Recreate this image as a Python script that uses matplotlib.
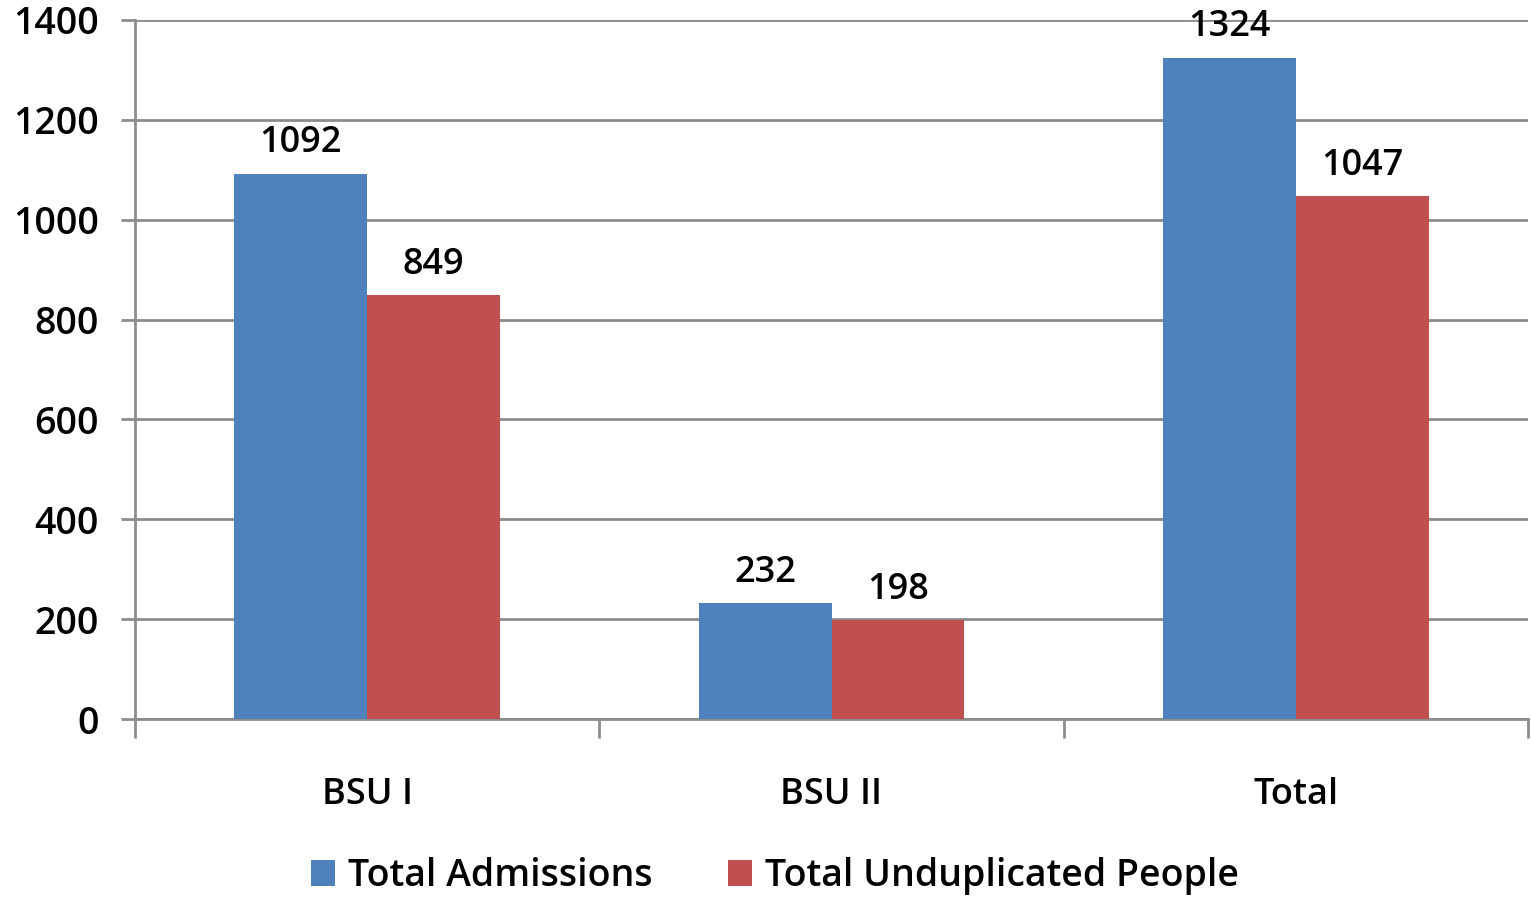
import matplotlib
matplotlib.use("Agg")
import matplotlib.pyplot as plt
import numpy as np

categories = ["BSU I", "BSU II", "Total"]
admissions = [1092, 232, 1324]
unduplicated = [849, 198, 1047]
series_names = ["Total Admissions", "Total Unduplicated People"]
yticks = [0, 200, 400, 600, 800, 1000, 1200, 1400]

plt.rcParams['font.family'] = ['Open Sans', 'DejaVu Sans']
plt.rcParams['font.weight'] = 'semibold'
blue = "#4F81BD"
red = "#C0504D"
grid_c = "#8C8C8C"

fig = plt.figure(figsize=(15.31, 8.98), dpi=100)
ax = fig.add_axes([135/1531, 1-719/898, (1528-135)/1531, (719-20)/898])

x = np.arange(len(categories))
w = 0.286
b1 = ax.bar(x - w/2, admissions, w, color=blue, label=series_names[0], zorder=3)
b2 = ax.bar(x + w/2, unduplicated, w, color=red, label=series_names[1], zorder=3)

fs = 26
for bars, vals in ((b1, admissions), (b2, unduplicated)):
    for r, v in zip(bars, vals):
        ax.annotate(str(v), (r.get_x() + r.get_width()/2, v), xytext=(0, 9),
                    textcoords="offset points", ha="center", va="bottom",
                    fontsize=fs, fontweight='semibold', zorder=4)

ax.set_xlim(-0.5, 2.5)
ax.set_ylim(0, 1400)
ax.set_yticks(yticks)
ax.set_yticklabels([str(t) for t in yticks], fontsize=27, fontweight='semibold')
ax.yaxis.grid(True, color=grid_c, linewidth=2, zorder=0)
ax.set_axisbelow(True)

ax.set_xticks([-0.5, 0.5, 1.5, 2.5])
ax.set_xticklabels([])
ax.set_xticks(x, minor=True)
ax.set_xticklabels(categories, minor=True, fontsize=fs, fontweight='semibold')
ax.tick_params(axis='x', which='major', length=14, width=2, color=grid_c, direction='out')
ax.tick_params(axis='x', which='minor', length=0, pad=42)
ax.tick_params(axis='y', length=10, width=2, color=grid_c, direction='out', pad=16)

for s in ['top', 'right']:
    ax.spines[s].set_visible(False)
for s in ['left', 'bottom']:
    ax.spines[s].set_color(grid_c)
    ax.spines[s].set_linewidth(2)

leg = fig.legend(handles=[b1, b2], labels=series_names, loc='center',
                 bbox_to_anchor=(775/1531, 1-876/898), ncol=2, frameon=False,
                 prop={'size': 27, 'weight': 'semibold'},
                 handlelength=0.65, handleheight=0.7,
                 handletextpad=0.35, columnspacing=2.0)

fig.savefig("out.png", dpi=100)
